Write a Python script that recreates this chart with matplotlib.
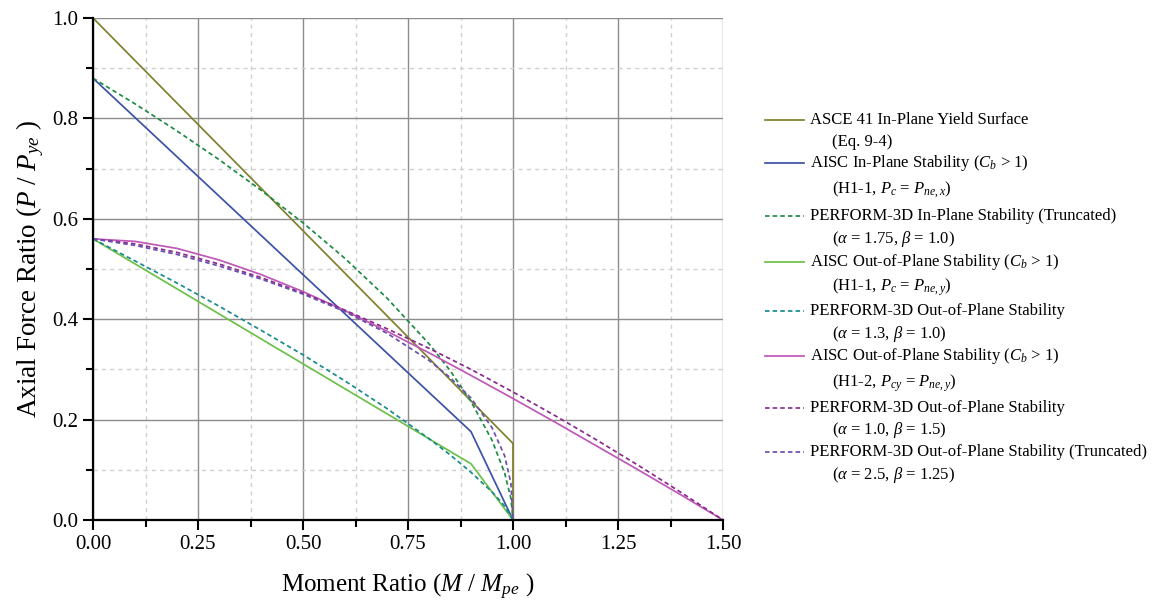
import matplotlib
matplotlib.use("Agg")
import matplotlib.pyplot as plt
from matplotlib.lines import Line2D
from matplotlib.ticker import MultipleLocator

plt.rcParams['font.family'] = 'Liberation Serif'
plt.rcParams['mathtext.fontset'] = 'custom'
plt.rcParams['mathtext.rm'] = 'Liberation Serif'
plt.rcParams['mathtext.it'] = 'Liberation Serif:italic'

# data (moment ratio, axial force ratio)
asce_m = [0.0, 1.0, 1.0]
asce_p = [1.0, 0.1525, 0.0]

aisc_ip_m = [0.0, 0.9, 1.0]
aisc_ip_p = [0.88, 0.176, 0.0]

p3d_ip_m = [0.0, 0.1, 0.2, 0.3, 0.4, 0.5, 0.6, 0.7, 0.8, 0.85, 0.9, 0.95, 0.98, 0.995, 1.0]
p3d_ip_p = [0.88, 0.829, 0.775, 0.718, 0.657, 0.592, 0.521, 0.442, 0.351, 0.298, 0.236, 0.159, 0.094, 0.043, 0.0]

aisc_oop_m = [0.0, 0.9, 1.0]
aisc_oop_p = [0.56, 0.112, 0.0]

p3d_oop_m = [0.0, 0.1, 0.2, 0.3, 0.4, 0.5, 0.6, 0.7, 0.8, 0.85, 0.9, 0.95, 0.98, 1.0]
p3d_oop_p = [0.56, 0.516, 0.472, 0.426, 0.378, 0.329, 0.277, 0.222, 0.162, 0.130, 0.095, 0.056, 0.028, 0.0]

h12_m = [0.0, 0.1, 0.2, 0.3, 0.4, 0.5, 0.6, 0.7, 0.8, 0.9, 1.0, 1.1, 1.2, 1.3, 1.4, 1.5]
h12_p = [0.56, 0.555, 0.541, 0.518, 0.489, 0.455, 0.417, 0.376, 0.333, 0.288, 0.242, 0.195, 0.147, 0.099, 0.050, 0.0]

p3d_oop2_m = [0.0, 0.1, 0.2, 0.3, 0.4, 0.5, 0.6, 0.7, 0.8, 0.9, 1.0, 1.1, 1.2, 1.3, 1.4, 1.5]
p3d_oop2_p = [0.56, 0.550, 0.533, 0.510, 0.483, 0.452, 0.418, 0.381, 0.342, 0.300, 0.255, 0.208, 0.159, 0.108, 0.055, 0.0]

p3d_oop3_m = [0.0, 0.1, 0.2, 0.3, 0.4, 0.5, 0.6, 0.7, 0.8, 0.85, 0.9, 0.95, 0.98, 0.995, 1.0]
p3d_oop3_p = [0.56, 0.547, 0.529, 0.506, 0.480, 0.450, 0.415, 0.372, 0.318, 0.284, 0.243, 0.184, 0.128, 0.0735, 0.0]

series = [
    (asce_m, asce_p, '#80802e', '-', "ASCE 41 In-Plane Yield Surface", "(Eq. 9-4)"),
    (aisc_ip_m, aisc_ip_p, '#3b52a6', '-', r"AISC In-Plane Stability ($C_b$ > 1)", r"(H1-1, $P_c$ = $P_{ne,x}$)"),
    (p3d_ip_m, p3d_ip_p, '#1e8a45', '--', "PERFORM-3D In-Plane Stability (Truncated)", r"($\alpha$ = 1.75, $\beta$ = 1.0)"),
    (aisc_oop_m, aisc_oop_p, '#6cc04a', '-', r"AISC Out-of-Plane Stability ($C_b$ > 1)", r"(H1-1, $P_c$ = $P_{ne,y}$)"),
    (p3d_oop_m, p3d_oop_p, '#1a8a8c', '--', "PERFORM-3D Out-of-Plane Stability", r"($\alpha$ = 1.3, $\beta$ = 1.0)"),
    (h12_m, h12_p, '#c058b8', '-', r"AISC Out-of-Plane Stability ($C_b$ > 1)", r"(H1-2, $P_{cy}$ = $P_{ne,y}$)"),
    (p3d_oop2_m, p3d_oop2_p, '#8b2a8b', '--', "PERFORM-3D Out-of-Plane Stability", r"($\alpha$ = 1.0, $\beta$ = 1.5)"),
    (p3d_oop3_m, p3d_oop3_p, '#6a4fb0', '--', "PERFORM-3D Out-of-Plane Stability (Truncated)", r"($\alpha$ = 2.5, $\beta$ = 1.25)"),
]

W, H = 1157, 611
fig = plt.figure(figsize=(W / 100, H / 100), dpi=100)
ax = fig.add_axes([93 / W, 1 - 520 / H, (723 - 93) / W, (520 - 18) / H])

dash = (2.6, 1.8)
for m, p, c, ls, l1, l2 in series:
    ax.plot(m, p, color=c, lw=1.25, dashes=dash if ls == '--' else (None, None), clip_on=False)

ax.set_xlim(0, 1.5)
ax.set_ylim(0, 1.0)
ax.xaxis.set_major_locator(MultipleLocator(0.25))
ax.xaxis.set_minor_locator(MultipleLocator(0.125))
ax.yaxis.set_major_locator(MultipleLocator(0.2))
ax.yaxis.set_minor_locator(MultipleLocator(0.1))
ax.xaxis.set_major_formatter(plt.FormatStrFormatter('%.2f'))
ax.yaxis.set_major_formatter(plt.FormatStrFormatter('%.1f'))
ax.grid(which='major', color='#8c8c8c', lw=1.0, ls='-')
ax.grid(which='minor', color='#d0d0d0', lw=1.0, ls=(0, (3, 3)))
ax.set_axisbelow(True)
for s in ['top', 'right']:
    ax.spines[s].set_visible(False)
for s in ['left', 'bottom']:
    ax.spines[s].set_linewidth(1.6)
ax.tick_params(which='major', direction='out', length=7, width=1.5, labelsize=15)
ax.tick_params(which='minor', direction='out', length=5, width=1.5)

ax.set_xlabel(r"Moment Ratio ($M$ / $M_{pe}$ )", fontsize=18)
ax.set_ylabel(r"Axial Force Ratio ($P$ / $P_{ye}$ )", fontsize=19.5)
ax.xaxis.set_label_coords(0.5, -0.104)
ax.yaxis.set_label_coords(-0.075, 0.5)

# legend drawn by hand so that wrapped labels line up as in the original
first_y = [120, 163, 216, 262, 311, 356, 408, 452]
second_y = [142, 190, 239, 287, 334, 383, 430, 475]
for (m, p, c, ls, l1, l2), y1, y2 in zip(series, first_y, second_y):
    fig.add_artist(Line2D([765 / W, 804 / W], [1 - y1 / H, 1 - y1 / H], color=c, lw=1.25,
                          dashes=dash if ls == '--' else (None, None)))
    fig.text(810 / W, 1 - y1 / H, l1, fontsize=12, va='center', ha='left')
    fig.text(832 / W, 1 - y2 / H, l2, fontsize=12, va='center', ha='left')

fig.savefig("out.png", dpi=100)
